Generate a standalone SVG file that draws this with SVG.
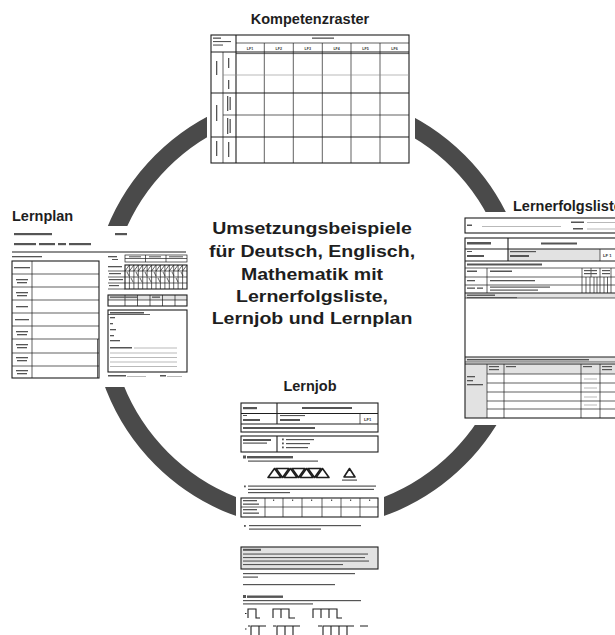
<svg xmlns="http://www.w3.org/2000/svg" width="615" height="635" viewBox="0 0 615 635">
<style>
.bg{fill:#fff}
.ttl{font-family:"Liberation Sans",Arial,sans-serif;font-weight:700;font-size:14.5px;fill:#1e1e1e}
.big{font-family:"Liberation Sans",Arial,sans-serif;font-weight:700;font-size:17px;fill:#1e1e1e}
.mini{font-family:"Liberation Sans",Arial,sans-serif;font-weight:700;font-size:3.6px;fill:#333}
.b{fill:none;stroke:#1e1e1e;stroke-width:1.1}
.l{fill:none;stroke:#1e1e1e;stroke-width:0.7}
.g{fill:none;stroke:#8a8a8a;stroke-width:0.6}
.x{fill:#555}
.xl{fill:#9a9a9a}
.sh{fill:#e2e2e2}
.tri{fill:none;stroke:#1e1e1e;stroke-width:1.6;stroke-linejoin:round}
</style>
<rect width="615" height="635" fill="#fff"/>
<g id="connectors">
<circle cx="310" cy="310" r="210" fill="none" stroke="#4a4a4a" stroke-width="18"/>
</g>

<g id="kompetenzraster">
<rect class="bg" x="207" y="0" width="208" height="165"/>
<text class="ttl" x="310" y="24" text-anchor="middle">Kompetenzraster</text>
<rect class="b" x="211" y="35" width="198" height="128"/>
<path class="b" d="M236 35V163M211 52H409M211 93H409M211 137H409"/>
<path class="l" d="M236 43H409M236 53.6H409M223 52V163M264.3 43V163M293.3 43V163M322.3 43V163M351 43V163M380 43V163M223 115H409"/>
<path class="g" d="M223 75H409"/>
<rect class="x" x="312" y="37.5" width="22" height="1.3"/>
<rect class="x" x="213" y="37.5" width="8" height="1.3"/>
<rect class="x" x="213" y="41" width="18" height="1.1"/>
<rect class="x" x="213" y="44.5" width="10" height="1.1"/>
<text class="mini" x="250" y="49.5" text-anchor="middle">LF1</text>
<text class="mini" x="278.8" y="49.5" text-anchor="middle">LF2</text>
<text class="mini" x="307.8" y="49.5" text-anchor="middle">LF3</text>
<text class="mini" x="336.6" y="49.5" text-anchor="middle">LF4</text>
<text class="mini" x="365.5" y="49.5" text-anchor="middle">LF5</text>
<text class="mini" x="394.5" y="49.5" text-anchor="middle">LF6</text>
<rect class="x" x="216" y="61" width="1.3" height="14"/>
<rect class="x" x="216" y="105" width="1.3" height="16"/>
<rect class="x" x="216" y="141" width="1.3" height="15"/>
<rect class="x" x="228" y="58" width="1.3" height="10"/>
<rect class="x" x="228" y="80" width="1.3" height="9"/>
<rect class="x" x="227" y="96" width="1.3" height="15"/>
<rect class="x" x="229.5" y="97" width="1.3" height="13"/>
<rect class="x" x="227" y="118" width="1.3" height="16"/>
<rect class="x" x="229.5" y="119" width="1.3" height="14"/>
<rect class="x" x="228" y="142" width="1.3" height="15"/>
</g>

<g id="lernplan">
<rect class="bg" x="0" y="226" width="190" height="161"/>
<text class="ttl" x="12" y="221">Lernplan</text>
<rect class="x" x="14" y="233" width="38" height="2.2"/>
<rect class="x" x="115" y="233" width="12" height="2.2"/>
<rect class="x" x="14" y="243" width="22" height="2.2"/>
<rect class="x" x="39" y="243" width="16" height="2.2"/>
<rect class="x" x="58" y="243" width="8" height="2.2"/>
<rect class="x" x="69" y="243" width="22" height="2.2"/>
<path class="b" d="M12 252H186"/>
<rect class="x" x="12" y="256" width="30" height="1.3"/>
<rect class="b" x="12" y="261" width="87" height="117"/>
<path class="l" d="M32 261V378M12 274H99M12 287H99M12 300H99M12 313H99M12 326H99M12 339H99M12 353H99M12 366H99M97.5 339V378"/>
<rect class="x" x="14" y="267" width="16" height="1.3"/>
<rect class="x" x="16" y="279" width="12" height="1.3"/><rect class="x" x="17" y="282" width="10" height="1.3"/>
<rect class="x" x="16" y="292" width="12" height="1.3"/><rect class="x" x="17" y="295" width="10" height="1.3"/>
<rect class="x" x="16" y="306" width="12" height="1.3"/>
<rect class="x" x="15" y="319" width="14" height="1.3"/>
<rect class="x" x="16" y="331" width="12" height="1.3"/><rect class="x" x="17" y="334" width="10" height="1.3"/>
<rect class="x" x="16" y="344" width="12" height="1.3"/><rect class="x" x="17" y="347" width="10" height="1.3"/>
<rect class="x" x="16" y="357" width="12" height="1.3"/><rect class="x" x="17" y="360" width="10" height="1.3"/>
<rect class="x" x="16" y="370" width="12" height="1.3"/><rect class="x" x="17" y="373" width="10" height="1.3"/>
<rect class="x" x="108" y="256" width="9" height="1.3"/><rect class="x" x="112" y="259" width="6" height="1"/>
<rect class="l" x="125" y="255" width="62" height="7"/>
<path class="l" d="M145.5 255V262M166 255V262M125 258.5H187"/>
<rect class="x" x="129" y="256.3" width="12" height="1"/><rect class="x" x="149" y="256.3" width="12" height="1"/><rect class="x" x="169" y="256.3" width="14" height="1"/>
<rect class="x" x="108" y="266" width="14" height="1.3"/>
<rect class="b" x="125" y="265" width="62" height="24"/>
<path class="l" d="M108 271H187M108 277H187M108 283H187M108 289H125M129.4 265V289M133.9 265V289M138.3 265V289M142.7 265V289M147.1 265V289M151.6 265V289M156 265V289M160.4 265V289M164.9 265V289M169.3 265V289M173.7 265V289M178.1 265V289M182.6 265V289"/>
<path class="l" d="M125 271L129.4 265M129.4 271L133.9 265M133.9 271L138.3 265M138.3 271L142.7 265M142.7 271L147.1 265M147.1 271L151.6 265M151.6 271L156 265M156 271L160.4 265M160.4 271L164.9 265M164.9 271L169.3 265M169.3 271L173.7 265M173.7 271L178.1 265M178.1 271L182.6 265M182.6 271L187 265"/>
<path class="l" d="M127 272L129 276M136 272L138 276M145 272L147 276M154 272L156 276M163 272L165 276M172 272L174 276M181 272L183 276M131 278L133 282M140 278L142 282M149 278L151 282M158 278L160 282M167 278L169 282M176 278L178 282"/>
<rect class="x" x="109" y="273" width="12" height="1.2"/><rect class="x" x="109" y="279" width="14" height="1.2"/><rect class="x" x="109" y="285" width="10" height="1.2"/>
<rect class="sh" x="108" y="295" width="79" height="5"/>
<rect class="b" x="108" y="295" width="79" height="11"/>
<path class="l" d="M108 300H187M125 295V306M137.5 295V306M150 295V306M162.5 295V306M175 295V306"/>
<rect class="x" x="110" y="296.5" width="28" height="1.3"/><rect class="x" x="152" y="296.5" width="8" height="1.3"/>
<rect class="b" x="108" y="310" width="79" height="62"/>
<rect class="x" x="110" y="312" width="34" height="1.6"/>
<path class="l" d="M108 314.5H150"/>
<rect class="x" x="110" y="317" width="5" height="1.3"/>
<rect class="x" x="110" y="323" width="3" height="1.3"/>
<rect class="x" x="110" y="329" width="6" height="1.3"/>
<rect class="x" x="110" y="335" width="4" height="1.3"/>
<rect class="x" x="110" y="340" width="10" height="1.3"/>
<rect class="x" x="110" y="347" width="22" height="1.5"/>
<path class="g" d="M134 348H177M110 353H177M110 357.5H177M110 362H177M110 366.5H177"/>
<rect class="x" x="108" y="375" width="18" height="1.5"/>
<path class="g" d="M127 376.5H146M167 376.5H182"/>
<rect class="x" x="160" y="375" width="6" height="1.5"/>
</g>

<g id="lernerfolgsliste">
<rect class="bg" x="462" y="212" width="153" height="213"/>
<text class="ttl" x="513" y="211">Lernerfolgsliste</text>
<rect class="b" x="465" y="218" width="160" height="15"/>
<rect class="x" x="467" y="224.5" width="5" height="1.5"/>
<path class="g" d="M482 226.5H561M587 222.5H620M587 229H620"/>
<rect class="x" x="571" y="221.5" width="13" height="1.5"/>
<rect class="x" x="573" y="228" width="10" height="1.5"/>
<rect class="sh" x="508" y="249" width="92" height="12"/>
<rect class="sh" x="465" y="293" width="150" height="5"/>
<rect class="sh" x="465" y="357" width="150" height="5"/>
<rect class="sh" x="465" y="364" width="22" height="54"/>
<rect class="sh" x="487" y="364" width="128" height="10"/>
<rect class="b" x="465" y="238" width="160" height="180"/>
<path class="b" d="M465 249H615M465 261H615M465 293H615M465 357H615M465 364H615M508 238V261"/>
<path class="l" d="M600 249V261M465 268H615M465 277H615M465 285H615M487 268V293M582 268V293M600 268V293M591 268V277M611 268V277M465 298H615M465 362H615"/>
<path class="l" d="M487 364V418M504 364V418M581 364V418M600 364V418M487 374H615M487 383H615M487 392H615M487 401H615M487 409H615"/>
<path class="l" d="M586 277V293M590 277V293M594 277V293M597 277V293M604 277V293M607.5 277V293M611 277V293"/>
<rect class="x" x="467" y="242" width="24" height="2.5"/>
<rect class="x" x="541" y="242.5" width="36" height="2"/>
<rect class="x" x="467" y="251" width="5" height="1"/>
<rect class="x" x="467" y="255" width="17" height="2"/>
<rect class="x" x="510" y="251" width="26" height="1.2"/>
<rect class="x" x="510" y="255" width="19" height="2"/>
<text class="mini" x="603" y="257" style="font-size:4.2px">LF 1</text>
<rect class="x" x="467" y="263.5" width="75" height="2"/>
<rect class="x" x="467" y="270.5" width="10" height="1.5"/>
<rect class="x" x="490" y="270.5" width="22" height="1.5"/>
<rect class="x" x="584" y="270" width="13" height="1.2"/><rect class="x" x="584" y="273" width="13" height="1.2"/>
<rect class="x" x="602" y="270" width="8" height="1.2"/><rect class="x" x="602" y="273" width="8" height="1.2"/>
<rect class="x" x="467" y="280" width="8" height="1.3"/>
<rect class="x" x="490" y="280" width="45" height="1.3"/>
<rect class="x" x="467" y="287.5" width="8" height="1.3"/><rect class="x" x="477" y="287.5" width="6" height="1.3"/>
<rect class="x" x="490" y="286.5" width="60" height="1.2"/><rect class="x" x="490" y="289.5" width="48" height="1.2"/>
<rect class="x" x="467" y="294.5" width="28" height="1.4"/>
<rect class="x" x="467" y="297" width="50" height="1.2"/>
<rect class="x" x="467" y="359" width="122" height="1.4"/>
<rect class="x" x="489" y="366" width="10" height="1.2"/><rect class="x" x="489" y="369" width="10" height="1.2"/>
<rect class="x" x="506" y="366" width="10" height="1.2"/>
<rect class="x" x="583" y="366" width="9" height="1.2"/>
<rect class="x" x="602" y="366" width="10" height="1.2"/><rect class="x" x="602" y="369" width="10" height="1.2"/>
<rect class="x" x="467" y="376" width="8" height="1.3"/>
<rect class="x" x="467" y="380" width="6" height="1.3"/>
<rect class="x" x="467" y="384" width="16" height="1.3"/>
<path class="g" d="M584 379H597M584 388H597M584 397H597M584 405H597"/>
</g>

<g id="lernjob">
<rect class="bg" x="236" y="370" width="148" height="265"/>
<text class="ttl" x="310" y="391" text-anchor="middle">Lernjob</text>
<rect class="b" x="241" y="403" width="137" height="29"/>
<path class="b" d="M241 413.5H378M241 424H378M277 403V424"/>
<path class="l" d="M360 413.5V424"/>
<rect class="x" x="243" y="407" width="14" height="2.2"/>
<rect class="x" x="302" y="407" width="50" height="2"/>
<rect class="x" x="243" y="415" width="4" height="1"/>
<rect class="x" x="243" y="419" width="17" height="2"/>
<rect class="x" x="280" y="415" width="25" height="1.1"/>
<rect class="x" x="280" y="419" width="20" height="2"/>
<text class="mini" x="364" y="420.5" style="font-size:4.2px">LF1</text>
<rect class="x" x="243" y="427" width="72" height="2"/>
<rect class="b" x="241" y="436" width="137" height="16"/>
<path class="b" d="M277 436V452"/>
<rect class="x" x="243" y="439" width="28" height="2"/>
<rect class="x" x="243" y="442.5" width="24" height="1.2"/>
<rect class="x" x="282" y="438.5" width="1.8" height="1.8"/><rect class="x" x="286" y="439" width="28" height="1.2"/>
<rect class="x" x="282" y="442.5" width="1.8" height="1.8"/><rect class="x" x="286" y="443" width="24" height="1.2"/>
<rect class="x" x="282" y="446.5" width="1.8" height="1.8"/><rect class="x" x="286" y="447" width="22" height="1.2"/>
<rect class="x" x="243" y="455.5" width="3" height="3"/>
<rect class="x" x="247" y="456" width="46" height="2.4"/>
<rect class="x" x="248" y="460.5" width="70" height="1.2"/>
<path class="tri" d="M268 477.5L274.5 468.5L281 477.5Z"/>
<path class="tri" d="M276 468.5L289 468.5L282.5 477.5Z"/>
<path class="tri" d="M284 477.5L290.5 468.5L297 477.5Z"/>
<path class="tri" d="M292 468.5L305 468.5L298.5 477.5Z"/>
<path class="tri" d="M300 477.5L306.5 468.5L313 477.5Z"/>
<path class="tri" d="M308 468.5L321 468.5L314.5 477.5Z"/>
<path class="tri" d="M316 477.5L322.5 468.5L329 477.5Z"/>
<path class="tri" d="M344 477L349.5 468.5L355 477Z"/>
<rect class="x" x="342" y="479.5" width="15" height="1.2"/>
<rect class="x" x="244" y="485.5" width="1.8" height="1.8"/>
<rect class="x" x="248" y="485.5" width="128" height="1.2"/>
<rect class="x" x="248" y="488.8" width="126" height="1.2"/>
<rect class="x" x="248" y="492" width="42" height="1.2"/>
<rect class="b" x="241" y="498" width="137" height="19"/>
<path class="l" d="M241 507H378M265 498V517M283 498V517M302 498V517M322 498V517M341 498V517M360 498V517"/>
<rect class="x" x="243" y="500" width="14" height="1.3"/><rect class="x" x="243" y="503.5" width="16" height="1.3"/>
<rect class="x" x="243" y="509" width="14" height="1.3"/><rect class="x" x="243" y="512.5" width="16" height="1.3"/>
<rect class="x" x="273" y="499.5" width="1.2" height="1.5"/><rect class="x" x="292" y="499.5" width="1.2" height="1.5"/><rect class="x" x="311" y="499.5" width="1.2" height="1.5"/><rect class="x" x="331" y="499.5" width="1.2" height="1.5"/><rect class="x" x="350" y="499.5" width="1.2" height="1.5"/><rect class="x" x="369" y="499.5" width="1.2" height="1.5"/>
<rect class="x" x="244" y="525" width="1.8" height="1.8"/>
<rect class="x" x="249" y="525" width="112" height="1.2"/>
<rect class="x" x="249" y="528.5" width="72" height="1.2"/>
<rect class="sh" x="241" y="547" width="137" height="22"/>
<rect class="b" x="241" y="547" width="137" height="22"/>
<rect class="x" x="243" y="548.8" width="18" height="2"/>
<rect class="x" x="243" y="553.5" width="125" height="1.1"/>
<rect class="x" x="243" y="557" width="122" height="1.1"/>
<rect class="x" x="243" y="560.5" width="126" height="1.1"/>
<rect class="x" x="243" y="564" width="100" height="1.1"/>
<rect class="x" x="243" y="573" width="112" height="1.2"/>
<rect class="x" x="243" y="576.5" width="15" height="1.2"/>
<rect class="x" x="243" y="584" width="92" height="1.2"/>
<rect class="x" x="243" y="595" width="3" height="3"/>
<rect class="x" x="247" y="595.5" width="36" height="2.4"/>
<rect class="x" x="243" y="600" width="118" height="1.2"/>
<rect class="x" x="243" y="603.3" width="70" height="1.2"/>
<path class="b" d="M245 613.5h1.5M248 618V609H256V618H260M273 618V609H281V618M281 609H289V618H295M313 618V609H321V618M321 609H329V618M329 609H337V618H342"/>
<path class="b" d="M245 629h1.5M248 626h2M251 635V626H259V635M259 626H266M273 626h3M277 635V626H285V635M285 626H293V635M293 626H300M318 626h4M323 635V626H331V635M331 626H339V635M339 626H347V635M347 626H354M360 626H368"/>
</g>

<g id="center-title">
<g transform="translate(312,0) scale(1.15,1)">
<text class="big" x="0" y="234" text-anchor="middle">Umsetzungsbeispiele</text>
<text class="big" x="0" y="257" text-anchor="middle">für Deutsch, Englisch,</text>
<text class="big" x="0" y="280" text-anchor="middle">Mathematik mit</text>
<text class="big" x="0" y="302" text-anchor="middle">Lernerfolgsliste,</text>
<text class="big" x="0" y="324" text-anchor="middle">Lernjob und Lernplan</text>
</g>
</g>
</svg>
